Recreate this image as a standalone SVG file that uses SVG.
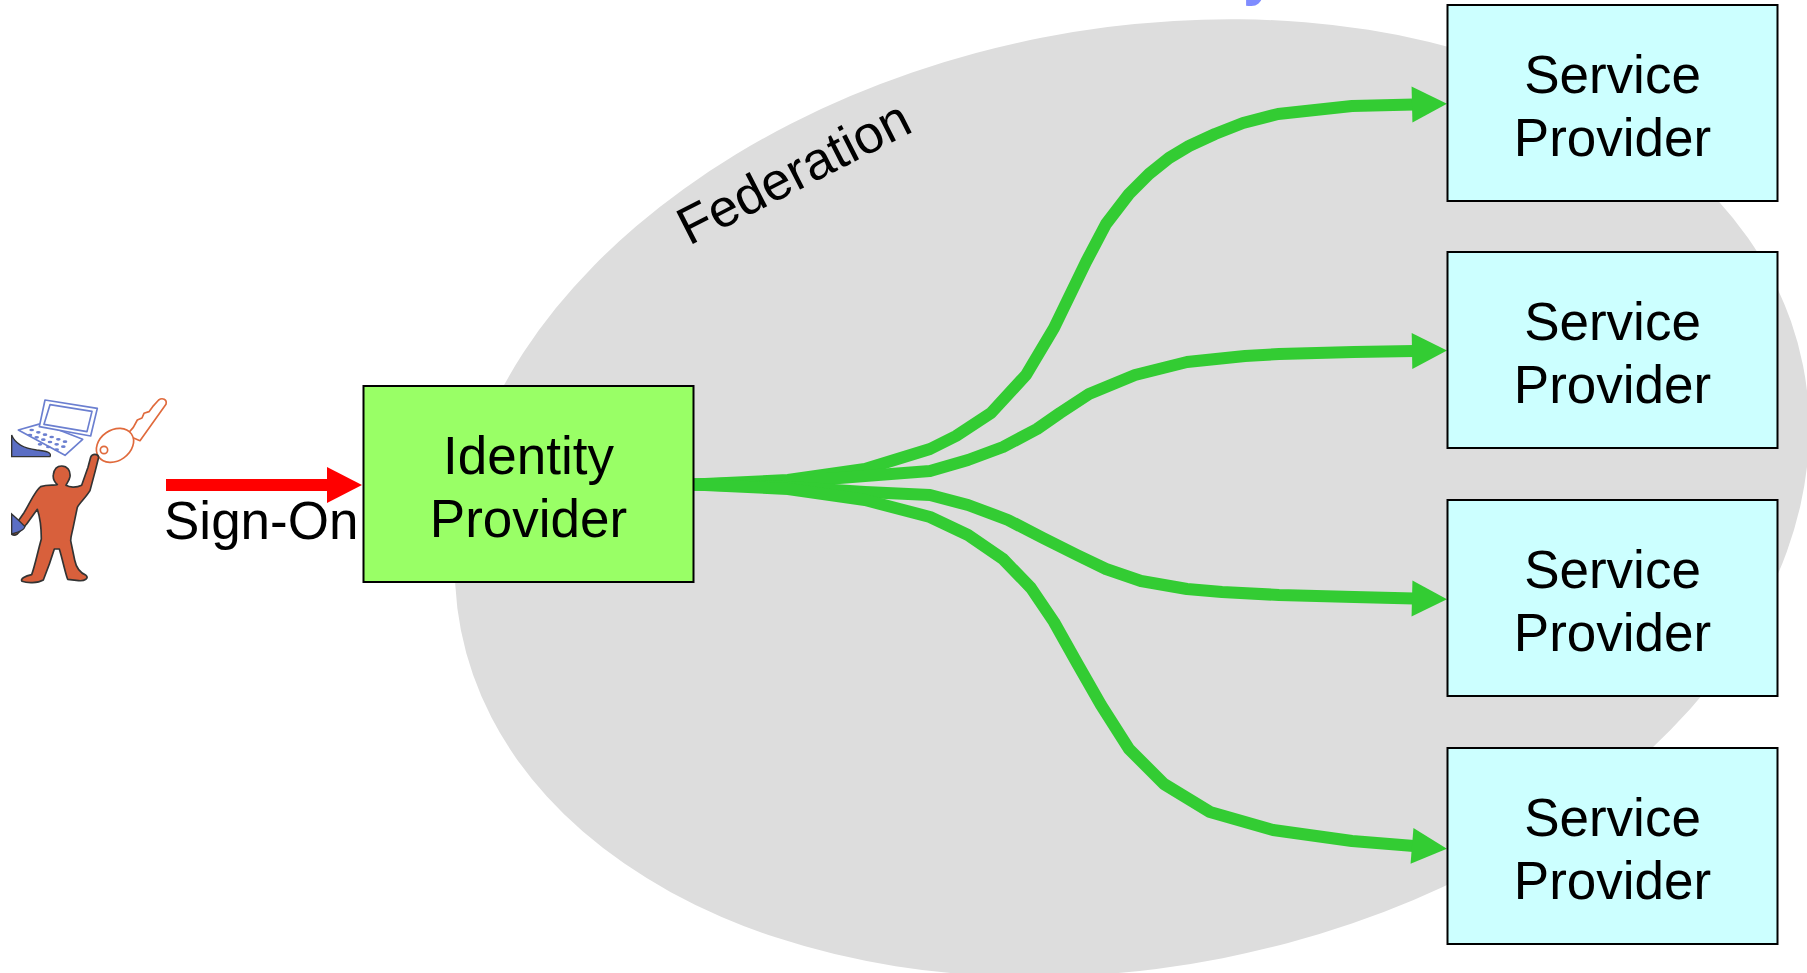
<svg xmlns="http://www.w3.org/2000/svg" width="1807" height="973" viewBox="0 0 1807 973">
  <style>
    .lbl { font-family: "Liberation Sans", Arial, sans-serif; font-size: 53px; fill: #000; }
    .mid { text-anchor: middle; }
    .sp rect { fill: #ccffff; stroke: #000; stroke-width: 2; }
    .idp rect { fill: #99ff66; stroke: #000; stroke-width: 2; }
    .flow { fill: none; stroke: #33cc33; stroke-width: 12; stroke-linejoin: round; marker-end: url(#headGreen); }
    .signon { fill: none; stroke: #ff0000; stroke-width: 12; marker-end: url(#headRed); }
  </style>
  <defs>
    <marker id="headGreen" markerUnits="userSpaceOnUse" markerWidth="40" markerHeight="40" refX="0" refY="18" orient="auto" overflow="visible">
      <polygon points="-2,0 33,18 -2,36" fill="#33cc33"/>
    </marker>
    <marker id="headRed" markerUnits="userSpaceOnUse" markerWidth="40" markerHeight="40" refX="0" refY="18" orient="auto" overflow="visible">
      <polygon points="-2,0 33,18 -2,36" fill="#ff0000"/>
    </marker>
    <clipPath id="iconClip">
      <rect x="11" y="380" width="200" height="220"/>
    </clipPath>
  </defs>

  <!-- white page -->
  <rect x="0" y="0" width="1807" height="973" fill="#ffffff"/>

  <!-- tail of the heading above the page edge -->
  <text x="1243" y="-6" font-family="'Liberation Sans', Arial, sans-serif" font-size="60" font-weight="bold" fill="#7f8cff">y</text>

  <!-- federation area -->
  <g id="federation">
    <ellipse cx="1132" cy="498" rx="684" ry="469" transform="rotate(-11.15 1132 498)" fill="#dddddd"/>
    <text class="lbl" x="689" y="246" transform="rotate(-27 689 246)">Federation</text>
  </g>

  <!-- user with laptop and key -->
  <g id="user" clip-path="url(#iconClip)">
    <g transform="translate(0,380) scale(0.3333)">
      <!-- sleeve holding the laptop -->
      <path d="M35 165 C45 190 70 205 110 210 C140 213 156 218 150 230 L35 230 Z" fill="#5b6ec4" stroke="#333" stroke-width="4"/>
      <!-- laptop -->
      <g fill="#ffffff" stroke="#6b7fd0" stroke-width="5" stroke-linejoin="round">
        <polygon points="55,150 125,130 248,178 195,226"/>
        <polygon points="135,60 292,85 272,168 118,140"/>
        <polygon points="150,74 276,94 261,155 132,133"/>
      </g>
      <g fill="#6b7fd0">
        <ellipse cx="95" cy="150" rx="7" ry="4"/>
        <ellipse cx="115" cy="157" rx="7" ry="4"/>
        <ellipse cx="135" cy="164" rx="7" ry="4"/>
        <ellipse cx="155" cy="171" rx="7" ry="4"/>
        <ellipse cx="175" cy="178" rx="7" ry="4"/>
        <ellipse cx="195" cy="185" rx="7" ry="4"/>
        <ellipse cx="90" cy="165" rx="7" ry="4"/>
        <ellipse cx="110" cy="172" rx="7" ry="4"/>
        <ellipse cx="130" cy="179" rx="7" ry="4"/>
        <ellipse cx="150" cy="186" rx="7" ry="4"/>
        <ellipse cx="170" cy="193" rx="7" ry="4"/>
        <ellipse cx="190" cy="200" rx="7" ry="4"/>
        <ellipse cx="120" cy="193" rx="7" ry="4"/>
        <ellipse cx="145" cy="201" rx="7" ry="4"/>
        <ellipse cx="170" cy="209" rx="7" ry="4"/>
      </g>
      <!-- key -->
      <g fill="#ffffff" stroke="#e06a3c" stroke-width="5" stroke-linejoin="round">
        <path d="M380 165 L400 142 L412 120 L426 114 L432 100 L447 95 L458 80 L476 60 C487 52 502 58 498 73 L420 182 Z"/>
        <ellipse cx="345" cy="196" rx="60" ry="46" transform="rotate(-35 345 196)"/>
        <circle cx="312" cy="210" r="11"/>
      </g>
      <!-- person -->
      <path d="M185 258 C202 258 212 272 210 290 C208 302 200 310 198 316 C208 322 228 324 245 316 L264 262 L272 232 C276 220 294 220 296 232 L286 272 L270 332 C258 352 240 367 232 382 L220 440 C216 460 212 470 212 482 L224 540 C228 560 240 578 258 586 C268 594 254 604 236 602 L203 598 C196 580 188 540 178 507 L163 507 C153 540 140 575 130 600 C113 610 82 610 66 604 C60 596 76 588 95 584 C104 560 112 520 124 477 C124 442 120 412 112 388 L80 432 L52 462 C40 470 28 462 36 450 L72 398 C92 366 105 332 122 320 C145 312 166 318 172 314 C164 306 158 296 160 284 C162 270 170 258 185 258 Z" fill="#d8603c" stroke="#333" stroke-width="5" stroke-linejoin="round"/>
      <!-- hand-held item at the lowered arm -->
      <path d="M35 402 L55 420 L75 440 C70 455 50 458 35 462 Z" fill="#5b6ec4" stroke="#333" stroke-width="4"/>
    </g>
  </g>

  <!-- connectors -->
  <g id="connectors">
    <path class="signon" d="M166 485 L329 485"/>
    <path class="flow" d="M694 484.5 L788 480 L865 469 L930 449 L956 436 L991 413 L1026 375 L1054 328 L1086 262 L1106 224 L1129 194 L1149 174 L1169 158 L1189 146 L1215 134 L1243 123 L1278 114 L1352 106 L1414 104.5"/>
    <path class="flow" d="M694 484.5 L788 482 L865 476 L930 471 L968 460 L1003 447 L1037 429 L1060 413 L1089 394 L1135 375 L1187 362 L1245 356 L1279 354 L1354 352 L1414 351"/>
    <path class="flow" d="M694 484.5 L788 487 L865 492 L930 495 L968 505 L1008 520 L1043 538 L1077 555 L1106 569 L1141 581 L1187 589 L1222 592 L1279 595 L1354 597 L1414 598.5"/>
    <path class="flow" d="M694 484.5 L788 489 L865 500 L930 517 L968 535 L1003 559 L1031 588 L1054 622 L1077 663 L1101 705 L1129 749 L1164 784 L1210 812 L1273 830 L1352 841 L1414 846"/>
  </g>

  <text class="lbl" x="164" y="539">Sign-On</text>

  <!-- identity provider -->
  <g id="idp" class="idp">
    <rect x="363.5" y="386" width="330" height="196"/>
    <text class="lbl mid" x="528.5" y="473.5">Identity</text>
    <text class="lbl mid" x="528.5" y="536.5">Provider</text>
  </g>

  <!-- service providers -->
  <g id="sp1" class="sp">
    <rect x="1447.5" y="5" width="330" height="196"/>
    <text class="lbl mid" x="1612.5" y="92.5">Service</text>
    <text class="lbl mid" x="1612.5" y="155.5">Provider</text>
  </g>
  <g id="sp2" class="sp">
    <rect x="1447.5" y="252" width="330" height="196"/>
    <text class="lbl mid" x="1612.5" y="339.5">Service</text>
    <text class="lbl mid" x="1612.5" y="402.5">Provider</text>
  </g>
  <g id="sp3" class="sp">
    <rect x="1447.5" y="500" width="330" height="196"/>
    <text class="lbl mid" x="1612.5" y="587.5">Service</text>
    <text class="lbl mid" x="1612.5" y="650.5">Provider</text>
  </g>
  <g id="sp4" class="sp">
    <rect x="1447.5" y="748" width="330" height="196"/>
    <text class="lbl mid" x="1612.5" y="835.5">Service</text>
    <text class="lbl mid" x="1612.5" y="898.5">Provider</text>
  </g>
</svg>
